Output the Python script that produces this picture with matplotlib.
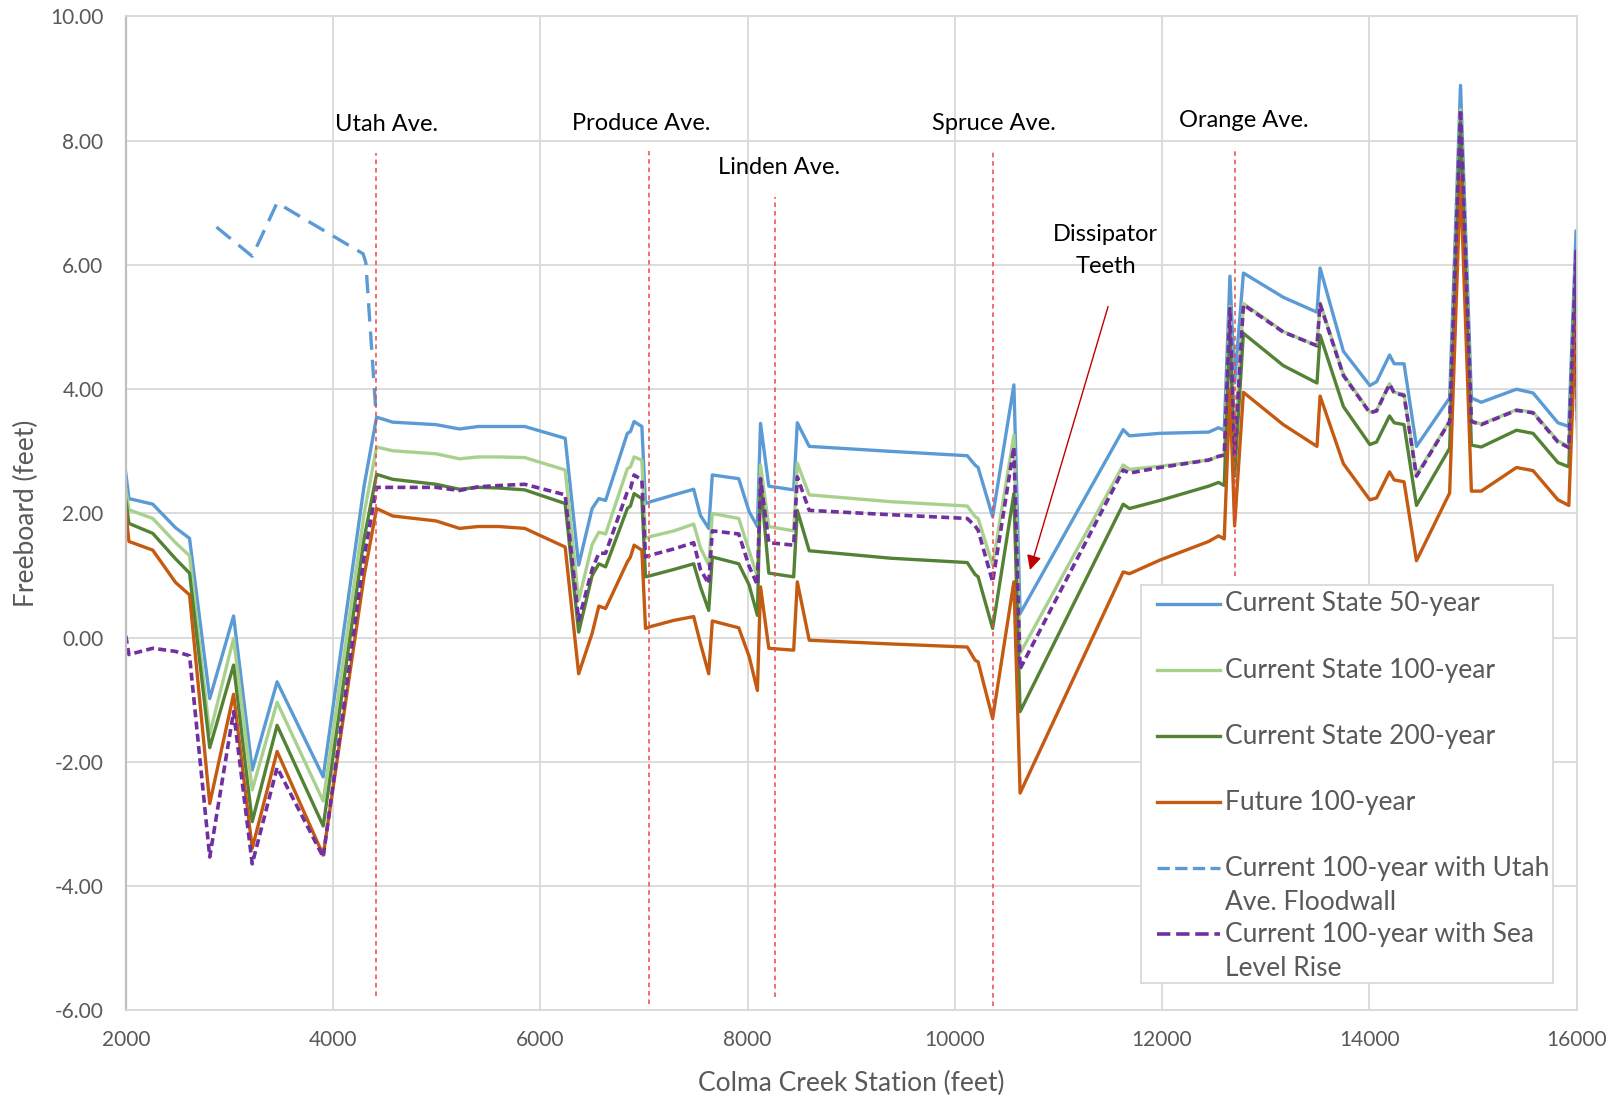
import numpy as np
import matplotlib.pyplot as plt
from matplotlib.patches import Rectangle

# station (feet) shared by the five main profiles
station = [2000, 2030, 2260, 2480, 2615, 2810, 3040, 3220, 3460, 3905,
           4300, 4420, 4575, 4995, 5220, 5400, 5600, 5850, 6240, 6370,
           6500, 6565, 6630, 6840, 6870, 6905, 6980, 7015, 7065, 7290,
           7480, 7545, 7625, 7660, 7915, 8015, 8095, 8125, 8205, 8445,
           8480, 8595, 9380, 10120, 10195, 10225, 10365, 10570, 10630, 11625,
           11685, 11980, 12450, 12545, 12600, 12655, 12700, 12785, 13170, 13495,
           13525, 13750, 14005, 14070, 14195, 14240, 14335, 14455, 14775, 14880,
           14985, 15080, 15420, 15580, 15820, 15925, 15995, 16010]

cs50 = [2.65, 2.24, 2.15, 1.77, 1.60, -0.98, 0.35, -2.13, -0.71, -2.24,
        2.45, 3.55, 3.47, 3.43, 3.36, 3.40, 3.40, 3.40, 3.21, 1.17,
        2.08, 2.24, 2.21, 3.29, 3.32, 3.48, 3.40, 2.16, 2.19, 2.30,
        2.39, 1.97, 1.76, 2.62, 2.56, 2.03, 1.79, 3.45, 2.44, 2.38,
        3.46, 3.08, 3.00, 2.93, 2.78, 2.74, 1.95, 4.07, 0.39, 3.35,
        3.25, 3.29, 3.31, 3.38, 3.34, 5.82, 4.10, 5.87, 5.48, 5.24,
        5.95, 4.61, 4.06, 4.12, 4.55, 4.41, 4.41, 3.08, 3.86, 8.89,
        3.86, 3.79, 4.00, 3.94, 3.46, 3.40, 6.55, 3.70]

cs100 = [2.40, 2.06, 1.92, 1.53, 1.32, -1.55, -0.01, -2.45, -1.04, -2.63,
         2.00, 3.07, 3.01, 2.96, 2.88, 2.91, 2.91, 2.90, 2.70, 0.60,
         1.50, 1.70, 1.67, 2.72, 2.75, 2.91, 2.86, 1.60, 1.63, 1.72,
         1.83, 1.45, 1.17, 2.00, 1.92, 1.40, 0.98, 2.78, 1.79, 1.72,
         2.81, 2.30, 2.19, 2.12, 1.95, 1.92, 1.17, 3.26, -0.25, 2.78,
         2.71, 2.76, 2.86, 2.92, 2.94, 5.33, 3.00, 5.38, 4.93, 4.70,
         5.39, 4.24, 3.63, 3.66, 4.09, 3.95, 3.92, 2.62, 3.49, 8.50,
         3.49, 3.44, 3.67, 3.63, 3.17, 3.08, 6.10, 3.40]

cs200 = [2.22, 1.84, 1.68, 1.27, 1.04, -1.77, -0.44, -2.96, -1.41, -3.03,
         1.60, 2.63, 2.55, 2.47, 2.39, 2.42, 2.41, 2.38, 2.16, 0.09,
         1.00, 1.19, 1.14, 2.08, 2.12, 2.32, 2.24, 0.98, 1.00, 1.10,
         1.19, 0.82, 0.44, 1.30, 1.19, 0.85, 0.36, 2.54, 1.04, 0.98,
         2.05, 1.40, 1.28, 1.21, 1.02, 0.98, 0.15, 2.32, -1.19, 2.15,
         2.08, 2.21, 2.44, 2.50, 2.45, 5.00, 2.60, 4.90, 4.38, 4.10,
         4.87, 3.72, 3.11, 3.15, 3.57, 3.46, 3.43, 2.13, 3.05, 8.30,
         3.10, 3.07, 3.34, 3.29, 2.82, 2.75, 6.00, 3.20]

future100 = [2.04, 1.55, 1.41, 0.89, 0.69, -2.67, -0.91, -3.39, -1.83, -3.50,
             1.00, 2.08, 1.96, 1.88, 1.76, 1.79, 1.79, 1.76, 1.46, -0.58,
             0.07, 0.51, 0.47, 1.22, 1.30, 1.49, 1.41, 0.15, 0.18, 0.28,
             0.34, -0.09, -0.58, 0.27, 0.16, -0.30, -0.85, 0.82, -0.17, -0.20,
             0.90, -0.04, -0.10, -0.15, -0.36, -0.39, -1.30, 0.90, -2.50, 1.06,
             1.03, 1.25, 1.55, 1.64, 1.59, 4.00, 1.80, 3.95, 3.43, 3.08,
             3.89, 2.80, 2.22, 2.25, 2.67, 2.54, 2.51, 1.24, 2.33, 7.41,
             2.36, 2.36, 2.74, 2.69, 2.22, 2.13, 5.20, 3.40]

slr100 = [0.03, -0.27, -0.17, -0.22, -0.29, -3.53, -1.19, -3.64, -2.09, -3.53,
          1.30, 2.42, 2.42, 2.42, 2.37, 2.43, 2.45, 2.47, 2.30, 0.28,
          1.10, 1.36, 1.36, 2.35, 2.40, 2.62, 2.54, 1.30, 1.33, 1.43,
          1.53, 1.10, 0.87, 1.72, 1.67, 1.15, 0.85, 2.56, 1.53, 1.49,
          2.59, 2.05, 1.98, 1.92, 1.80, 1.73, 0.90, 3.07, -0.50, 2.70,
          2.65, 2.74, 2.86, 2.92, 2.94, 5.30, 2.95, 5.36, 4.92, 4.70,
          5.37, 4.22, 3.62, 3.65, 4.08, 3.94, 3.90, 2.60, 3.48, 8.50,
          3.48, 3.43, 3.66, 3.62, 3.15, 3.06, 6.22, 3.50]

# floodwall scenario only covers the reach upstream of Utah Ave.
utah_station = [2875, 3220, 3460, 4290, 4316, 4415]
utah_wall = [6.61, 6.14, 7.00, 6.18, 6.04, 3.60]

# road crossings
road_names = ['Utah Ave.', 'Produce Ave.', 'Linden Ave.', 'Spruce Ave.', 'Orange Ave.']
road_station = [4410, 7045, 8263, 10364, 12703]
road_top = [7.80, 7.83, 7.09, 7.85, 7.86]
road_bottom = [-5.76, -5.90, -5.79, -5.92, 1.00]
label_xy = [(4520, 8.26), (6975, 8.28), (8300, 7.57), (10378, 8.28), (12786, 8.32)]

plt.rcParams['font.family'] = ['Lato', 'DejaVu Sans']

fig = plt.figure(figsize=(16.17, 10.98), dpi=100)
ax = fig.add_axes([0.0778, 0.0797, 0.8972, 0.9053])

lines = []
lines += ax.plot(station, cs50, color='#5B9BD5', lw=2.4, label='Current State 50-year')
lines += ax.plot(station, cs100, color='#A9D18E', lw=2.4, label='Current State 100-year')
lines += ax.plot(station, cs200, color='#548235', lw=2.4, label='Current State 200-year')
lines += ax.plot(station, future100, color='#C55A11', lw=2.4, label='Future 100-year')
lines += ax.plot(utah_station, utah_wall, color='#5B9BD5', lw=2.4, ls=(0, (5.5, 3)),
                 label='Current 100-year with Utah\nAve. Floodwall')
lines += ax.plot(station, slr100, color='#7030A0', lw=2.6, ls=(0, (2.2, 1.2)),
                 label='Current 100-year with Sea\nLevel Rise')

for name, x, top, bot, (lx, ly) in zip(road_names, road_station, road_top, road_bottom, label_xy):
    ax.plot([x, x], [bot, top], color='#E8494B', lw=1.1, ls=(0, (3, 2.5)))
    ax.text(lx, ly, name, ha='center', va='center', fontsize=17, color='black')

ax.text(11455, 6.24, 'Dissipator\nTeeth', ha='center', va='center', fontsize=17,
        color='black', linespacing=1.65)
ax.annotate('', xy=(10725, 1.09), xytext=(11479, 5.33),
            arrowprops=dict(arrowstyle='-|>', color='#C00000', lw=1.0,
                            mutation_scale=22, shrinkA=0, shrinkB=0))

ax.set_xlim(2000, 16000)
ax.set_ylim(-6, 10)
ax.set_xticks(np.arange(2000, 16001, 2000))
ax.set_yticks(np.arange(-6, 10.01, 2))
ax.set_yticklabels([f'{v:.2f}' for v in np.arange(-6, 10.01, 2)])
ax.grid(True, color='#D9D9D9', lw=1.3)
ax.set_axisbelow(True)
for side in ['top', 'right', 'bottom']:
    ax.spines[side].set_color('#D9D9D9')
    ax.spines[side].set_linewidth(1.3)
ax.spines['left'].set_color('#BFBFBF')
ax.spines['left'].set_linewidth(1.6)
ax.tick_params(length=0, labelsize=15, labelcolor='#595959')
ax.tick_params(axis='y', pad=16)
ax.tick_params(axis='x', pad=14)

ax.set_xlabel('Colma Creek Station (feet)', fontsize=19, color='#595959', labelpad=15)
ax.set_ylabel('Freeboard (feet)', fontsize=19, color='#595959', labelpad=8)

# legend laid out like the spreadsheet one: evenly spaced rows, wrapped labels
ax.add_patch(Rectangle((0.6998, 0.0277), 0.284, 0.4003, transform=ax.transAxes,
                       facecolor='white', edgecolor='#D9D9D9', lw=1.3, zorder=5))
row_y = 0.409
for ln in lines:
    ax.plot([0.711, 0.754], [row_y, row_y], transform=ax.transAxes, color=ln.get_color(),
            lw=ln.get_linewidth(), ls=ln.get_linestyle(), zorder=6, clip_on=False)
    for k, part in enumerate(ln.get_label().split('\n')):
        ax.text(0.7577, row_y - k * 0.0342, part, transform=ax.transAxes, fontsize=19,
                color='#595959', va='center', ha='left', zorder=6)
    row_y -= 0.0665

fig.savefig('out.png', dpi=100)
